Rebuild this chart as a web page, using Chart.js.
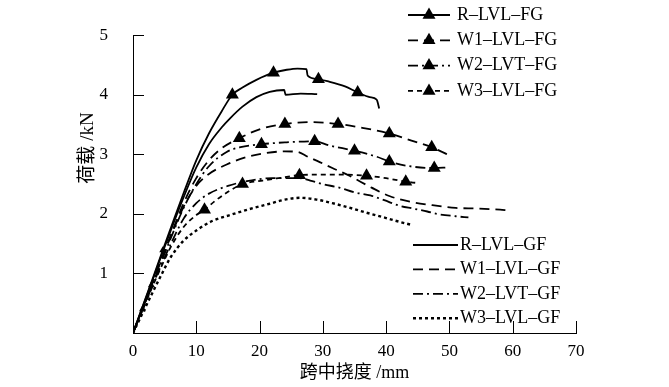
<!DOCTYPE html>
<html>
<head>
<meta charset="utf-8">
<script src="https://cdn.jsdelivr.net/npm/chart.js@4.4.1/dist/chart.umd.min.js"></script>
<style>
  html, body { margin: 0; padding: 0; background: #fff; }
</style>
</head>
<body>
<canvas id="loadChart" width="669" height="387"></canvas>
<script>
// ---- data: deflection (mm) and load (kN) ----
const xTicks = [0, 10, 20, 30, 40, 50, 60, 70];
const yTicks = [0, 1, 2, 3, 4, 5];
const seriesNames = ["R–LVL–FG", "W1–LVL–FG", "W2–LVT–FG", "W3–LVL–FG",
                     "R–LVL–GF", "W1–LVL–GF", "W2–LVT–GF", "W3–LVL–GF"];

const rFgX = [0, 1.5, 3, 4.7, 6, 8, 10, 12, 14, 15.7, 17.3, 19.5, 22.2, 24.3, 26, 27.4, 27.6, 29.3, 31, 33.5, 35.5, 37.4, 38.5, 38.9];
const rFgY = [0, 0.44, 0.88, 1.39, 1.77, 2.35, 2.9, 3.35, 3.72, 4.0, 4.12, 4.25, 4.37, 4.42, 4.44, 4.43, 4.32, 4.26, 4.22, 4.14, 4.04, 3.96, 3.92, 3.77];
const rFgMarks = [4.7, 15.7, 22.2, 29.3, 35.5];

const w1FgX = [0, 1.5, 2.9, 4.5, 6, 8, 10, 12, 14, 16.8, 20, 24, 28, 32.4, 36, 40.5, 44, 47.2, 50.4];
const w1FgY = [0, 0.41, 0.8, 1.24, 1.65, 2.18, 2.6, 2.9, 3.1, 3.27, 3.42, 3.51, 3.54, 3.51, 3.45, 3.35, 3.23, 3.12, 2.96];
const w1FgMarks = [2.9, 16.8, 24, 32.4, 40.5, 47.2];

const w2FgX = [0, 1.5, 3, 4.5, 6, 8, 10, 12, 14.8, 17, 20.3, 24, 28.7, 31, 35, 38.5, 40.5, 43.7, 47.6, 49.7];
const w2FgY = [0, 0.4, 0.8, 1.2, 1.6, 2.1, 2.5, 2.8, 3.04, 3.12, 3.17, 3.2, 3.22, 3.15, 3.06, 2.96, 2.88, 2.8, 2.77, 2.78];
const w2FgMarks = [1.5, 20.3, 28.7, 35, 40.5, 47.6];

const w3FgX = [0, 1.5, 3, 4.5, 6, 8, 10, 11.3, 13, 15, 17.3, 20.5, 23, 26.3, 30, 33, 36.9, 40, 43.1, 44.8];
const w3FgY = [0, 0.38, 0.76, 1.12, 1.45, 1.78, 1.98, 2.07, 2.22, 2.37, 2.5, 2.56, 2.6, 2.65, 2.66, 2.66, 2.64, 2.6, 2.54, 2.52];
const w3FgMarks = [11.3, 17.3, 26.3, 36.9, 43.1];

const rGfX = [0, 1.5, 3, 4.7, 6, 8, 10, 12, 14, 15.3, 17.3, 19.5, 21.6, 23.9, 24.1, 26.5, 29.1];
const rGfY = [0, 0.43, 0.86, 1.36, 1.73, 2.28, 2.78, 3.17, 3.45, 3.6, 3.8, 3.96, 4.05, 4.08, 4.0, 4.02, 4.01];

const w1GfX = [0, 1.5, 3, 4.5, 6, 8, 10, 12, 14.8, 17.5, 21, 24, 26, 27.6, 29.5, 31.5, 34.2, 37.7, 40.5, 44, 47, 51, 54.3, 58, 59.2];
const w1GfY = [0, 0.41, 0.82, 1.23, 1.63, 2.12, 2.47, 2.67, 2.83, 2.94, 3.02, 3.05, 3.04, 2.96, 2.87, 2.77, 2.64, 2.44, 2.3, 2.2, 2.15, 2.1, 2.09, 2.07, 2.06];

const w2GfX = [0, 1.5, 3, 4.5, 6, 8, 10, 12, 15, 18, 22, 26.3, 28, 30, 32.6, 35, 37.5, 39.7, 42, 44.2, 46.5, 48, 51, 53];
const w2GfY = [0, 0.4, 0.78, 1.15, 1.5, 1.92, 2.18, 2.34, 2.47, 2.55, 2.6, 2.6, 2.56, 2.5, 2.44, 2.36, 2.31, 2.23, 2.14, 2.09, 2.04, 2.0, 1.96, 1.94];

const w3GfX = [0, 1.5, 3, 4.5, 6, 8, 10, 12.5, 15.3, 18.4, 21.6, 24, 26.5, 29, 31.5, 34, 36.9, 40, 42, 44.2];
const w3GfY = [0, 0.33, 0.66, 0.98, 1.28, 1.55, 1.72, 1.88, 1.98, 2.08, 2.17, 2.24, 2.27, 2.24, 2.18, 2.11, 2.02, 1.93, 1.87, 1.81];

// ---- styles ----
const serif = "'Liberation Serif', 'Noto Sans CJK SC', serif";
const dashes = [[], [10, 6], [10, 4, 2, 4], [5, 4], [], [10, 6], [10, 4, 2, 4], [3, 3]];
const widths = [1.8, 1.8, 1.8, 1.8, 1.8, 1.8, 1.8, 2.4];

const toPoints = (xs, ys) => xs.map((v, i) => ({ x: v, y: ys[i] }));
const curves = [
    [rFgX, rFgY, rFgMarks], [w1FgX, w1FgY, w1FgMarks], [w2FgX, w2FgY, w2FgMarks], [w3FgX, w3FgY, w3FgMarks],
    [rGfX, rGfY, null], [w1GfX, w1GfY, null], [w2GfX, w2GfY, null], [w3GfX, w3GfY, null]
];

// markers in the steep elastic part are mostly buried under the lines, so draw them small
const markerSize = c => c.raw.y < 2 ? 4 : 7.5;

const datasets = curves.map(([xs, ys, marks], i) => ({
    label: seriesNames[i],
    data: toPoints(xs, ys),
    borderColor: "#000",
    backgroundColor: "#000",
    borderWidth: widths[i],
    borderDash: dashes[i],
    cubicInterpolationMode: "monotone",
    pointStyle: "triangle",
    pointBorderWidth: 0,
    pointRadius: c => (marks && marks.includes(c.raw.x)) ? markerSize(c) : 0,
    pointHoverRadius: 0
}));

// ticks pointing inward, axis titles and the two legend boxes
const decorations = {
    id: "decorations",
    afterDraw(chart) {
        const { ctx, scales: { x, y } } = chart;
        ctx.save();
        ctx.strokeStyle = "#000";
        ctx.lineWidth = 1;
        ctx.setLineDash([]);
        ctx.beginPath();
        xTicks.forEach(v => {
            if (v === 0) return;
            const px = Math.round(x.getPixelForValue(v)) + 0.5;
            ctx.moveTo(px, y.bottom);
            ctx.lineTo(px, y.bottom - 12);
        });
        yTicks.forEach(v => {
            if (v === 0) return;
            const py = Math.round(y.getPixelForValue(v)) + 0.5;
            ctx.moveTo(x.left, py);
            ctx.lineTo(x.left + 11, py);
        });
        ctx.stroke();

        ctx.fillStyle = "#000";
        ctx.textAlign = "center";
        ctx.textBaseline = "middle";
        ctx.font = "18px " + serif;
        ctx.fillText("跨中挠度 /mm", (x.left + x.right) / 2, 373);
        ctx.save();
        ctx.translate(88, 148);
        ctx.rotate(-Math.PI / 2);
        ctx.font = "19px " + serif;
        ctx.fillText("荷载 /kN", 0, 0);
        ctx.restore();

        // legends
        ctx.font = "18px " + serif;
        ctx.textAlign = "left";
        chart.data.datasets.forEach((ds, i) => {
            const fg = i < 4;
            const row = fg ? i : i - 4;
            const ly = fg ? 15 + row * 25.3 : 245 + row * 24.4;
            const x0 = fg ? 408 : 413;
            const x1 = fg ? 450 : 458;
            ctx.lineWidth = ds.borderWidth;
            ctx.setLineDash(ds.borderDash);
            ctx.beginPath();
            ctx.moveTo(x0, ly);
            ctx.lineTo(x1, ly);
            ctx.stroke();
            ctx.setLineDash([]);
            if (fg) {
                const cx = (x0 + x1) / 2, r = 7.5;
                ctx.beginPath();
                ctx.moveTo(cx, ly - r);
                ctx.lineTo(cx + r * 0.866, ly + r / 2);
                ctx.lineTo(cx - r * 0.866, ly + r / 2);
                ctx.closePath();
                ctx.fill();
            }
            ctx.fillText(ds.label, fg ? 457 : 460, ly);
        });
        ctx.restore();
    }
};

new Chart(document.getElementById("loadChart"), {
    type: "line",
    data: { datasets },
    options: {
        responsive: false,
        animation: false,
        devicePixelRatio: 1,
        layout: { padding: { top: 24, right: 93, left: 0, bottom: 0 } },
        plugins: { legend: { display: false }, tooltip: { enabled: false } },
        scales: {
            x: {
                type: "linear",
                min: 0, max: 70,
                afterFit: s => { s.height = 54; },
                afterBuildTicks: s => { s.ticks = xTicks.map(v => ({ value: v })); },
                ticks: { color: "#000", font: { family: serif, size: 17 }, padding: 8, maxRotation: 0 },
                grid: { display: false, drawTicks: false },
                border: { display: true, color: "#000", width: 1 }
            },
            y: {
                min: 0, max: 5,
                afterFit: s => { s.width = 133; },
                afterBuildTicks: s => { s.ticks = yTicks.map(v => ({ value: v })); },
                ticks: { color: "#000", font: { family: serif, size: 17 }, padding: 25,
                         callback: v => v === 0 ? "" : v },
                grid: { display: false, drawTicks: false },
                border: { display: true, color: "#000", width: 1 }
            }
        }
    },
    plugins: [decorations]
});
</script>
</body>
</html>
